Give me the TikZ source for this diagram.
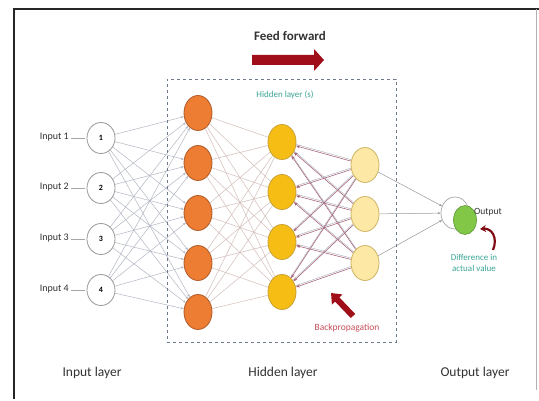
\documentclass[tikz,border=0pt]{standalone}
\usepackage{fontspec}
\setmainfont{Carlito}
\usetikzlibrary{arrows.meta,shapes.geometric}
\definecolor{orFill}{RGB}{236,125,50}
\definecolor{orLine}{RGB}{175,90,40}
\definecolor{goFill}{RGB}{246,190,20}
\definecolor{goLine}{RGB}{200,160,50}
\definecolor{ltFill}{RGB}{253,232,165}
\definecolor{ltLine}{RGB}{205,180,100}
\definecolor{grFill}{RGB}{130,200,70}
\definecolor{grLine}{RGB}{90,150,55}
\definecolor{darkRed}{RGB}{160,15,25}
\definecolor{wireGray}{RGB}{180,183,196}
\definecolor{wirePeach}{RGB}{210,190,185}
\definecolor{backWire}{RGB}{165,95,115}
\definecolor{tealText}{RGB}{60,165,150}
\definecolor{boxDash}{RGB}{110,122,140}
\definecolor{bpText}{RGB}{200,80,90}
\definecolor{labelGray}{RGB}{50,50,50}
\pgfdeclarelayer{back}
\pgfdeclarelayer{wires}
\pgfsetlayers{back,wires,main}
\begin{document}
\begin{tikzpicture}[x=1pt,y=-1pt,
  inputnode/.style={ellipse, draw=gray!80, line width=0.8pt, fill=white,
    minimum width=28pt, minimum height=31pt, inner sep=0pt,
    font=\fontsize{8}{8}\selectfont\bfseries},
  layerA/.style={ellipse, draw=orLine, fill=orFill, line width=0.8pt,
    minimum width=28pt, minimum height=35pt, inner sep=0pt},
  layerB/.style={ellipse, draw=goLine, fill=goFill, line width=0.8pt,
    minimum width=28pt, minimum height=35pt, inner sep=0pt},
  layerC/.style={ellipse, draw=ltLine, fill=ltFill, line width=0.8pt,
    minimum width=28pt, minimum height=35pt, inner sep=0pt},
  inlabel/.style={font=\fontsize{10}{10}\selectfont, text=labelGray, inner sep=1pt},
  bottomlabel/.style={font=\fontsize{13.5}{14}\selectfont, text=labelGray},
  wire/.style={draw=wireGray, line width=0.5pt},
  wireArrow/.style={wire, -{Stealth[length=3pt,width=2.4pt]}},
  backArrow/.style={draw=backWire, line width=0.55pt, -{Stealth[length=4pt,width=3pt]}},
]
\useasboundingbox (0,0) rectangle (539,401);

% page and frame
\begin{pgfonlayer}{back}
  \fill[white] (0,0) rectangle (539,401);
  \draw[line width=2.4pt, black!85] (14,399) -- (14,9) -- (539,9);
  \draw[line width=0.8pt, gray!60] (536,9) -- (536,390);
\end{pgfonlayer}

% hidden-layer frame
\node[draw=boxDash, dashed, line width=0.8pt, minimum width=229pt, minimum height=263pt,
      inner sep=0pt] (hbox) at (281.5,210.5) {};
\node[font=\fontsize{9}{9}\selectfont, text=tealText] (htitle) at (285,95) {Hidden layer (s)};

% feed-forward banner
\node[font=\fontsize{13}{13}\selectfont\bfseries, text=black!80] (ff) at (290,36) {Feed forward};
\fill[darkRed] (252,55) -- (314,55) -- (314,49) -- (324,60) -- (314,71) -- (314,65) -- (252,65) -- cycle;
\node[inner sep=0pt] (ffarrow) at (288,60) {};

% input layer
\foreach \k/\y in {1/138,2/188,3/239,4/290} {
  \node[inputnode] (i\k) at (101,\y) {\k};
  \node[inlabel, anchor=east] (il\k) at (70,\y-1) {Input \k};
  \draw[gray!70, line width=0.6pt] (il\k.east) ++(1,1) -- ++(14,0);
}

% first hidden layer
\foreach \k/\y in {1/113,2/163,3/213,4/263,5/312}
  \node[layerA] (a\k) at (198,\y) {};

% second hidden layer
\foreach \k/\y in {1/142,2/192,3/242,4/292}
  \node[layerB] (b\k) at (282,\y) {};

% third hidden layer
\foreach \k/\y in {1/165,2/214,3/263}
  \node[layerC] (c\k) at (365,\y) {};

% output neuron
\node[ellipse, draw=gray!70, fill=white, line width=0.7pt, minimum width=28pt,
      minimum height=32pt, inner sep=0pt] (out) at (455,213) {};
\node[ellipse, draw=grLine, fill=grFill, line width=0.6pt, minimum width=23pt,
      minimum height=29pt, inner sep=0pt] (outg) at (465,220) {};
\node[font=\fontsize{9.5}{10}\selectfont, text=black!80, anchor=west, inner sep=0pt]
      (outlbl) at (474,212) {Output};
\node[font=\fontsize{9}{10.5}\selectfont, text=tealText, align=center]
      (diff) at (474,263) {Difference in\\actual value};
\coordinate (errstart) at (493,250);
\coordinate (errend) at (480,229);
\draw[darkRed!80!black, line width=2.2pt, -{Stealth[length=6pt,width=7pt]}]
      (errstart) .. controls (498,238) and (492,228) .. (errend);

% backpropagation marker
\coordinate (bptail) at (353,316);
\coordinate (bptip) at (331,293);
\draw[darkRed, line width=6pt, -{Triangle[length=9pt,width=14pt]}] (bptail) -- (bptip);
\node[font=\fontsize{9.5}{10}\selectfont, text=bpText] (bp) at (347,328) {Backpropagation};

% connections
\begin{pgfonlayer}{wires}
  \foreach \i in {1,...,4}
    \foreach \j in {1,...,5}
      \draw[wireArrow] (i\i) -- (a\j);
  \foreach \i in {1,...,5}
    \foreach \j in {1,...,4}
      \draw[wire, draw=wirePeach] (a\i) -- (b\j);
  \foreach \i in {1,...,4}
    \foreach \j in {1,...,3} {
      \draw[wire] ([yshift=1.5pt]b\i.center) -- ([yshift=1.5pt]c\j.center);
      \draw[backArrow] (c\j) -- (b\i);
    }
  \foreach \j in {1,...,3}
    \draw[wireArrow, draw=gray!80] (c\j) -- (out);
\end{pgfonlayer}

% layer captions
\node[bottomlabel] (capin) at (92,373) {Input layer};
\node[bottomlabel] (caphid) at (283,373) {Hidden layer};
\node[bottomlabel] (capout) at (475,373) {Output layer};
\end{tikzpicture}
\end{document}
